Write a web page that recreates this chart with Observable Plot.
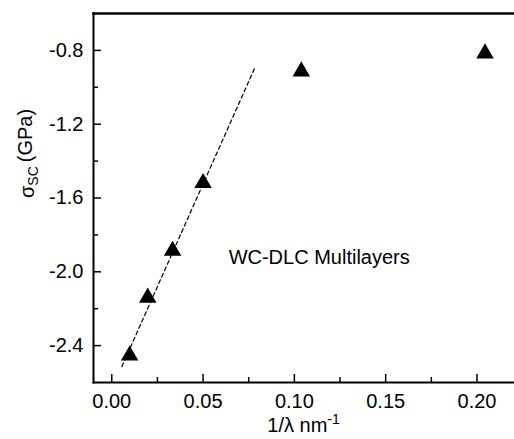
<!DOCTYPE html>
<html><head><meta charset="utf-8">
<script src="https://cdn.jsdelivr.net/npm/d3@7"></script>
<script src="https://cdn.jsdelivr.net/npm/@observablehq/plot@0.6"></script>
<style>body{margin:0;background:#fff} svg{display:block}</style>
</head><body><div id="chart"></div>
<script>
const invLambda = [0.0098, 0.0197, 0.0333, 0.0500, 0.1038, 0.2044];
const sigma = [-2.454, -2.140, -1.886, -1.519, -0.914, -0.816];
const fitX = [0.0055, 0.0787];
const fitY = [-2.514, -0.886];
const xTicks = [0, 0.05, 0.10, 0.15, 0.20];
const xMinor = [0.025, 0.075, 0.125, 0.175];
const yTicks = [-2.4, -2.0, -1.6, -1.2, -0.8];
const yMinor = [-2.2, -1.8, -1.4, -1.0];
const annotation = "WC-DLC Multilayers";
const annX = 0.064, annY = -1.924;
const xLabel = "1/λ nm-1";
const yLabel = "σSC (GPa)";

const pts = invLambda.map((x, i) => ({x, y: sigma[i]}));
const fit = fitX.map((x, i) => ({x, y: fitY[i]}));
const font = "Liberation Sans, Arial, sans-serif";
const hyph = f => d => f(d).replace("−", "-");

const plot = Plot.plot({
  width: 514, height: 439,
  marginLeft: 93, marginTop: 13, marginBottom: 57, marginRight: 1,
  style: {fontFamily: font, fontSize: "20px", color: "#000", background: "#fff"},
  x: {domain: [-0.01, 0.22]},
  y: {domain: [-2.6, -0.6]},
  marks: [
    Plot.axisX(xTicks, {tickSize: 0, tickPadding: 11, tickFormat: hyph(d3.format(".2f")), label: null, fontSize: 20}),
    Plot.axisX(xTicks, {tickSize: -8, text: null, label: null, strokeWidth: 1.5}),
    Plot.axisX(xMinor, {tickSize: -5, text: null, label: null, strokeWidth: 1.5}),
    Plot.axisY(yTicks, {tickSize: 0, tickPadding: 10, tickFormat: hyph(d3.format(".1f")), label: null, fontSize: 20}),
    Plot.axisY(yTicks, {tickSize: -8, text: null, label: null, strokeWidth: 1.5}),
    Plot.axisY(yMinor, {tickSize: -5, text: null, label: null, strokeWidth: 1.5}),
    Plot.frame({anchor: "left", strokeWidth: 2}),
    Plot.frame({anchor: "bottom", strokeWidth: 2}),
    Plot.frame({anchor: "top", strokeWidth: 2.5}),
    Plot.line(fit, {x: "x", y: "y", stroke: "#000", strokeWidth: 1.2, strokeDasharray: "4,3"}),
    Plot.dot(pts, {x: "x", y: "y", symbol: "triangle", r: 6.5, fill: "#000", stroke: "none"}),
    Plot.text([annotation], {x: annX, y: annY, text: d => d, textAnchor: "start", fontSize: 20, fill: "#000"}),
    Plot.text([xLabel], {frameAnchor: "bottom", dy: 43, lineAnchor: "middle", text: d => d, fontSize: 20, fill: "#000"}),
    Plot.text([yLabel], {frameAnchor: "left", dx: -66, rotate: -90, text: d => d, fontSize: 20, fill: "#000"})
  ]
});

const svg = d3.select(plot);
svg.selectAll("text").filter(function(){ return this.textContent === xLabel; }).each(function(){
  const t = d3.select(this); t.text(null);
  t.append("tspan").text("1/λ nm");
  t.append("tspan").attr("dy", "-0.55em").attr("font-size", "14px").text("-1");
});
svg.selectAll("text").filter(function(){ return this.textContent === yLabel; }).each(function(){
  const t = d3.select(this); t.text(null);
  t.append("tspan").text("σ");
  t.append("tspan").attr("dy", "0.3em").attr("font-size", "14px").text("SC");
  t.append("tspan").attr("dy", "-0.3em").attr("dx", "4").text("(GPa)");
});
document.getElementById("chart").appendChild(plot);
</script></body></html>
